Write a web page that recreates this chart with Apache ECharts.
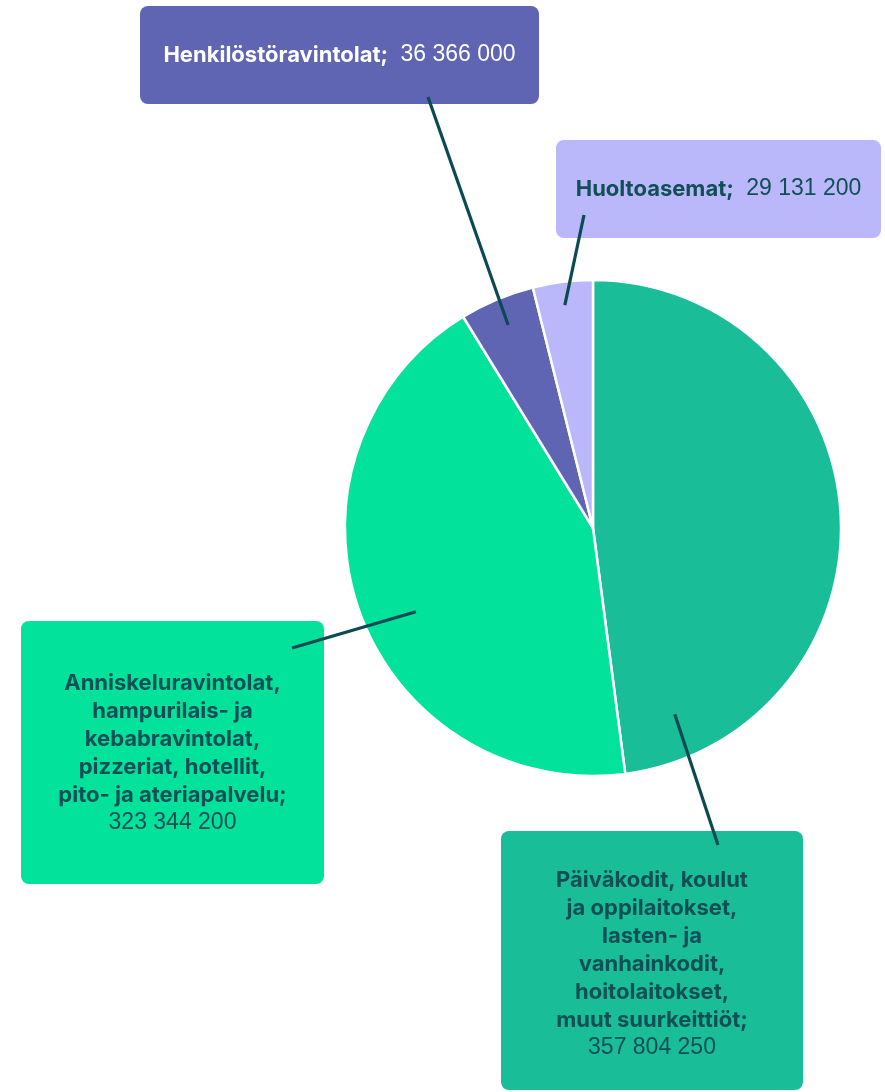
<!DOCTYPE html>
<html><head><meta charset="utf-8">
<script src="https://cdn.jsdelivr.net/npm/echarts@6/dist/echarts.min.js"></script>
<style>html,body{margin:0;padding:0;background:#fff;}#c{width:885px;height:1092px;}</style>
</head><body><div id="c"></div>
<script>
// ---- data ----
const categories = [
  'Päiväkodit, koulut\nja oppilaitokset,\nlasten- ja\nvanhainkodit,\nhoitolaitokset,\nmuut suurkeittiöt;',
  'Anniskeluravintolat,\nhampurilais- ja\nkebabravintolat,\npizzeriat, hotellit,\npito- ja ateriapalvelu;',
  'Henkilöstöravintolat;',
  'Huoltoasemat;'
];
const values = [357804250, 323344200, 36366000, 29131200];

// ---- style ----
const colors = ['#19bd97', '#03e29b', '#5f65b3', '#bbb7fb'];
const textColors = ['#0f4f55', '#0f4f55', '#ffffff', '#0f4f55'];
const separators = ['\n', '\n', '  ', '  '];
const CX = 593, CY = 528, R = 248;
const boxes = [
  {x: 652,   y: 960.5, w: 302, pad: [35, 0, 28, 0], a: 156.3, r: 0.82,  end: [718, 845]},
  {x: 172.5, y: 752.5, w: 303, pad: [48, 0, 47, 0], a: 244.7, r: 0.79,  end: [292, 648]},
  {x: 339.5, y: 55,    w: 399, pad: [35, 0, 35, 0], a: 337.3, r: 0.887, end: [428, 97]},
  {x: 718.5, y: 189,   w: 325, pad: [35, 0, 35, 0], a: 352.8, r: 0.906, end: [584, 215]}
];

function fmt(v) { return String(v).replace(/\B(?=(\d{3})+(?!\d))/g, ' '); }

const mainData = categories.map((n, i) => ({
  name: n, value: values[i],
  itemStyle: {color: colors[i]},
  label: {
    color: textColors[i], backgroundColor: colors[i], width: boxes[i].w,
    padding: boxes[i].pad, borderRadius: 8
  }
}));
const lineData = categories.map((n, i) => ({name: n, value: values[i]}));

const chart = echarts.init(document.getElementById('c'), null, {renderer: 'canvas'});
chart.setOption({
  animation: false,
  backgroundColor: '#fff',
  series: [
    {
      type: 'pie', z: 2, silent: true,
      center: [CX, CY], radius: R, startAngle: 90, clockwise: true,
      avoidLabelOverlap: false,
      itemStyle: {borderColor: '#fff', borderWidth: 2.5},
      emphasis: {disabled: true},
      label: {
        show: true, position: 'outside',
        fontFamily: 'Inter', fontSize: 22, lineHeight: 28,
        formatter: p => '{b|' + p.name + '}' + separators[p.dataIndex] + '{v|' + fmt(p.value) + '}',
        rich: {
          b: {fontFamily: 'Inter', fontWeight: 'bold', fontSize: 22, lineHeight: 28},
          v: {fontFamily: 'Liberation Sans', fontSize: 23, lineHeight: 28}
        }
      },
      labelLine: {show: false},
      labelLayout: p => ({x: boxes[p.dataIndex].x, y: boxes[p.dataIndex].y, align: 'center', verticalAlign: 'middle'}),
      data: mainData
    },
    {
      type: 'pie', z: 5, silent: true,
      center: [CX, CY], radius: R, startAngle: 90, clockwise: true,
      avoidLabelOverlap: false,
      itemStyle: {color: 'rgba(0,0,0,0)', borderWidth: 0},
      emphasis: {disabled: true},
      label: {show: true, position: 'outside', formatter: ' ', color: 'rgba(0,0,0,0)'},
      labelLine: {show: true, lineStyle: {color: '#0b4a55', width: 3.2}},
      labelLayout: p => {
        const b = boxes[p.dataIndex];
        const rad = b.a * Math.PI / 180;
        const s = [CX + b.r * R * Math.sin(rad), CY - b.r * R * Math.cos(rad)];
        return {x: b.end[0], y: b.end[1], labelLinePoints: [s, s, b.end]};
      },
      data: lineData
    }
  ]
});
</script></body></html>
